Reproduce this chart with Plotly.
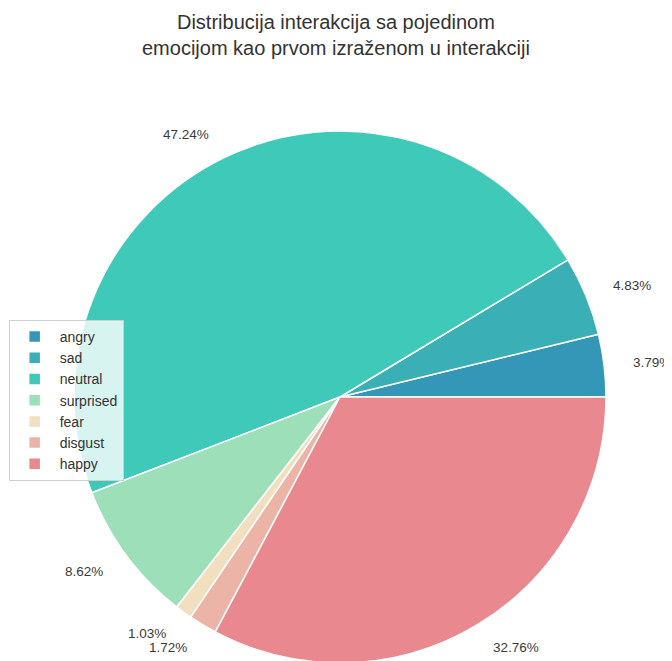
import math
import plotly.graph_objects as go

# Share of interactions by the first emotion expressed (%)
emotions = ["angry", "sad", "neutral", "surprised", "fear", "disgust", "happy"]
shares = [3.79, 4.83, 47.24, 8.62, 1.03, 1.72, 32.76]
colors = ["#3497b7", "#3ab0b6", "#3ec9b8", "#9ddfb8", "#f1dfbf", "#ecb3a7", "#e9898f"]

W, H = 672, 661
dom_x = [0.0982, 0.8899]
dom_y = [0.0091, 0.8139]

fig = go.Figure(
    go.Pie(
        labels=emotions,
        values=shares,
        sort=False,
        direction="counterclockwise",
        # first slice (angry) starts at 3 o'clock
        rotation=90 - shares[0] * 3.6,
        marker=dict(colors=colors, line=dict(color="white", width=1.5)),
        textinfo="none",
        hoverinfo="label+percent",
        domain=dict(x=dom_x, y=dom_y),
    )
)

# percentage labels outside the pie, at 1.1 x radius, aligned away from centre
cx = (dom_x[0] + dom_x[1]) / 2 * W
cy = (dom_y[0] + dom_y[1]) / 2 * H
r = min((dom_x[1] - dom_x[0]) * W, (dom_y[1] - dom_y[0]) * H) / 2
total = sum(shares)
cum = 0
for s in shares:
    theta = 2 * math.pi * (cum + s / 2) / total
    cum += s
    px_ = cx + 1.1 * r * math.cos(theta)
    py_ = cy + 1.1 * r * math.sin(theta)
    fig.add_annotation(
        x=px_ / W,
        y=py_ / H,
        xref="paper",
        yref="paper",
        text=f"{s:.2f}%",
        showarrow=False,
        xanchor="left" if math.cos(theta) >= 0 else "right",
        yanchor="middle",
        font=dict(size=13.5, color="#3a3a3a"),
    )

fig.update_layout(
    width=W,
    height=H,
    margin=dict(l=0, r=0, t=0, b=0),
    paper_bgcolor="white",
    font=dict(family="Liberation Sans, Arial, sans-serif", color="#333333"),
    title=dict(
        text="Distribucija interakcija sa pojedinom<br>emocijom kao prvom izraženom u interakciji",
        x=0.488,
        xanchor="center",
        y=0.968,
        yanchor="top",
        font=dict(size=20, color="#333333"),
    ),
    legend=dict(
        x=0.001,
        y=0.528,
        xanchor="left",
        yanchor="top",
        bgcolor="rgba(255,255,255,0.8)",
        bordercolor="#d0d0d0",
        borderwidth=1,
        font=dict(size=14, color="#333333"),
        itemwidth=40,
        traceorder="normal",
    ),
)

fig.write_html("out.html")
